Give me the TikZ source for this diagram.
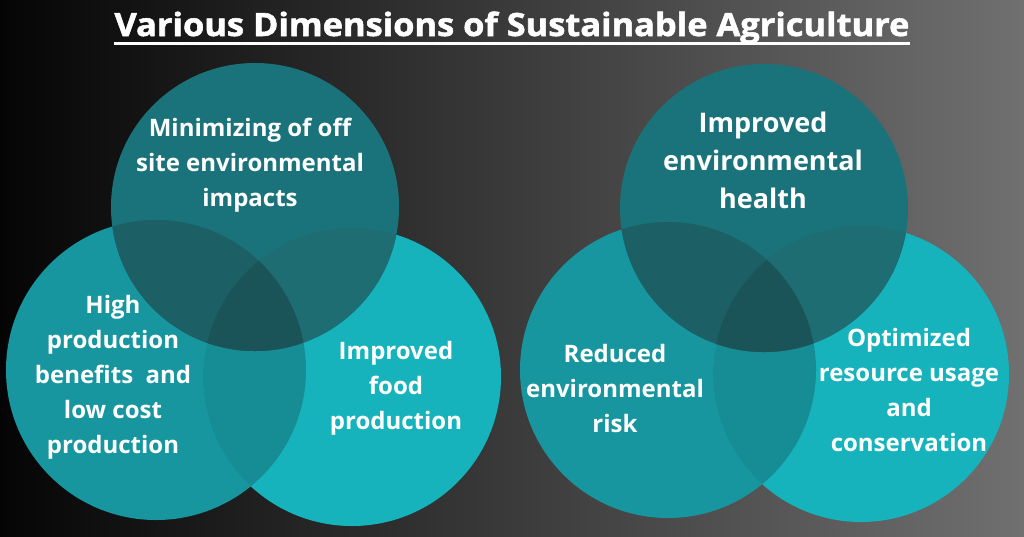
\documentclass[tikz,border=0pt]{standalone}
\usepackage{fontspec}
\setmainfont{Open Sans}
\newfontfamily\titlefont{Open Sans}[BoldFeatures={FakeBold=1.6}]
\usepackage{graphicx}
\definecolor{bgL}{HTML}{050505}
\definecolor{bgR}{HTML}{707070}
\definecolor{cL}{HTML}{17969F}
\definecolor{cR}{HTML}{17B3BC}
\definecolor{cT}{HTML}{1A737A}
\definecolor{cLR}{HTML}{168C94}
\definecolor{cTL}{HTML}{1C5F64}
\definecolor{cTR}{HTML}{1E6D73}
\definecolor{cTLR}{HTML}{1B5458}
\tikzset{
  lbl/.style={text=white, align=center, font=\bfseries\fontsize{24}{35}\selectfont},
  lblbig/.style={text=white, align=center, font=\bfseries\fontsize{27}{38}\selectfont},
  ring/.style={circle, inner sep=0pt, minimum size=#1}
}
\begin{document}
\begin{tikzpicture}[x=1pt,y=-1pt]
\useasboundingbox (0,0) rectangle (1024,536);
\shade[left color=bgL, right color=bgR] (0,0) rectangle (1024,536);

% title
\node[text=white, inner sep=0pt, anchor=base] (title) at (512,36)
  {\resizebox{795pt}{24.5pt}{\titlefont\bfseries Various Dimensions of Sustainable Agriculture}};
\coordinate (ulA) at (114,43.5);
\coordinate (ulB) at (910,43.5);
\draw[white, line width=3pt] (ulA) -- (ulB);

% ---------- left diagram ----------
\node[ring=300pt, fill=cL] (L1) at (156,370) {};
\node[ring=298pt, fill=cR] (R1) at (352,377) {};
\begin{scope}
  \clip (156,370) circle (150);
  \fill[cLR] (352,377) circle (149);
\end{scope}
\node[ring=288pt, fill=cT] (T1) at (255,207) {};
\begin{scope}
  \clip (255,207) circle (144);
  \fill[cTL] (156,370) circle (150);
  \fill[cTR] (352,377) circle (149);
  \clip (156,370) circle (150);
  \fill[cTLR] (352,377) circle (149);
\end{scope}

\node[lbl] (t1) at (250,165) {Minimizing of off\\site environmental\\impacts};
\node[lbl] (l1) at (113,377) {High\\production\\benefits\ \ and\\low cost\\production};
\node[lbl] (r1) at (396,388) {Improved\\food\\production};

% ---------- right diagram ----------
\node[ring=296pt, fill=cL] (L2) at (668,370) {};
\node[ring=296pt, fill=cR] (R2) at (861,374) {};
\begin{scope}
  \clip (668,370) circle (148);
  \fill[cLR] (861,374) circle (148);
\end{scope}
\node[ring=288pt, fill=cT] (T2) at (764,208) {};
\begin{scope}
  \clip (764,208) circle (144);
  \fill[cTL] (668,370) circle (148);
  \fill[cTR] (861,374) circle (148);
  \clip (668,370) circle (148);
  \fill[cTLR] (861,374) circle (148);
\end{scope}

\node[lblbig] (t2) at (763,160) {Improved\\environmental\\health};
\node[lbl] (l2) at (615,388) {Reduced\\environmental\\risk};
\node[lbl] (r2) at (909,390) {Optimized\\resource usage\\and\\conservation};
\end{tikzpicture}
\end{document}
